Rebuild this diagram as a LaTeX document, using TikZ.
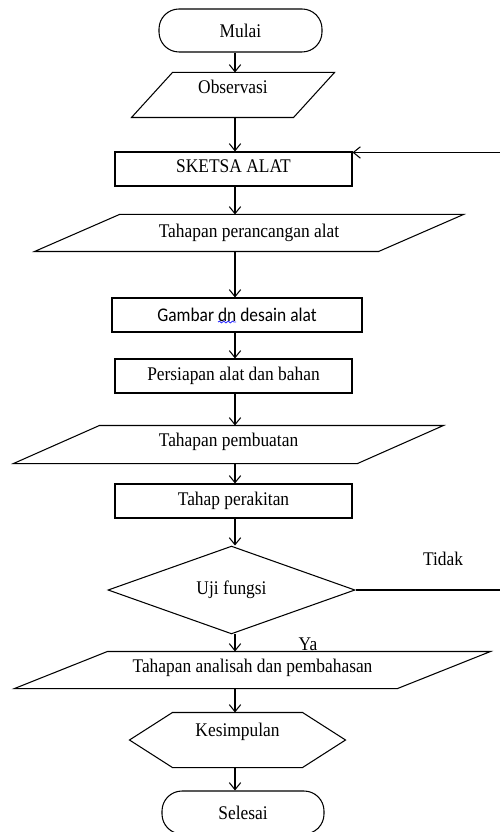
\documentclass[tikz,border=0pt]{standalone}
\usepackage{fontspec}
\setmainfont{Liberation Serif}[FakeStretch=0.9]
\newfontfamily\hurufsans{Carlito}[FakeStretch=0.9]
\usetikzlibrary{shapes.geometric,arrows.meta,decorations.pathmorphing}

\begin{document}
\begin{tikzpicture}[
        >={Straight Barb[length=4pt,width=6.5pt]},
        line width=0.6pt,
        every node/.style={font=\fontsize{11}{13}\selectfont},
        terminal/.style={draw, rectangle, rounded corners=0.4cm, minimum width=#1, minimum height=0.86cm},
        proses/.style={draw, rectangle, minimum width=#1, minimum height=0.68cm},
        io/.style={rectangle, minimum width=#1},
        keputusan/.style={draw, diamond, minimum width=4.94cm, minimum height=1.52cm, inner sep=0pt},
        atas/.style={text depth=#1}
    ]
        \useasboundingbox (0,0) rectangle (10,-16.64);
        \coordinate (sumbu) at (4.7,0);
        \coordinate (balik) at (10.4,0);

        % Simbol alur
        \node[terminal=3.26cm] (mulai) at (4.81,-0.61) {Mulai};
        \node[io=4.04cm, minimum height=0.88cm, atas=0.33cm] (obs) at (4.66,-1.90) {Observasi};
        \node[proses=4.74cm, atas=0.12cm] (sketsa) at (4.67,-3.38) {SKETSA ALAT};
        \node[io=8.56cm, minimum height=0.72cm] (rancang) at (4.98,-4.66) {Tahapan perancangan alat};
        \node[proses=5.0cm, font=\fontsize{11}{13}\hurufsans] (gambar) at (4.74,-6.30) {Gambar dn desain alat};
        \node[proses=4.74cm] (persiapan) at (4.67,-7.52) {Persiapan alat dan bahan};
        \node[io=8.58cm, minimum height=0.74cm, atas=0.19cm] (buat) at (4.57,-8.89) {Tahapan pembuatan};
        \node[proses=4.74cm] (rakit) at (4.67,-10.02) {Tahap perakitan};
        \node[keputusan] (uji) at (4.63,-11.80) {Uji fungsi};
        \node[io=9.5cm, minimum height=0.72cm, atas=0.17cm] (analisa) at (5.05,-13.40) {Tahapan analisah dan pembahasan};
        \node[rectangle, minimum width=4.3cm, minimum height=1.08cm, atas=0.41cm] (kes) at (4.75,-14.80) {Kesimpulan};
        \node[terminal=3.24cm] (selesai) at (4.86,-16.25) {Selesai};

        % Jajaran genjang dan segi enam
        \foreach \n/\s in {obs/0.82, rancang/1.70, buat/1.72, analisa/1.86}
            \draw ([xshift=\s cm]\n.north west) -- (\n.north east) -- ([xshift=-\s cm]\n.south east) -- (\n.south west) -- cycle;
        \draw (kes.west) -- ([xshift=0.86cm]kes.north west) -- ([xshift=-0.86cm]kes.north east) -- (kes.east)
            -- ([xshift=-0.86cm]kes.south east) -- ([xshift=0.86cm]kes.south west) -- cycle;

        % Garis bergelombang di bawah "dn"
        \draw[line width=0.5pt, color=blue!80!white, decorate, decoration={snake, amplitude=0.5pt, segment length=2.5pt}]
            ([xshift=-0.38cm, yshift=-0.14cm]gambar.center) -- ([xshift=-0.02cm, yshift=-0.14cm]gambar.center);

        % Panah
        \foreach \a/\b in {mulai/obs, obs/sketsa, sketsa/rancang, rancang/gambar, gambar/persiapan, persiapan/buat,
                buat/rakit, rakit/uji, uji/analisa, analisa/kes, kes/selesai}
            \draw[->] (\a.south -| sumbu) -- (\b.north -| sumbu);

        % Kembali ke sketsa
        \coordinate (masuk) at ([yshift=-0.02cm]sketsa.north east);
        \draw[->] (uji.east) -- (uji.east -| balik) |- (masuk);
        \node (tidak) at (8.86,-11.18) {Tidak};
        \node (ya) at (6.16,-12.88) {Ya};
    \end{tikzpicture}
\end{document}
